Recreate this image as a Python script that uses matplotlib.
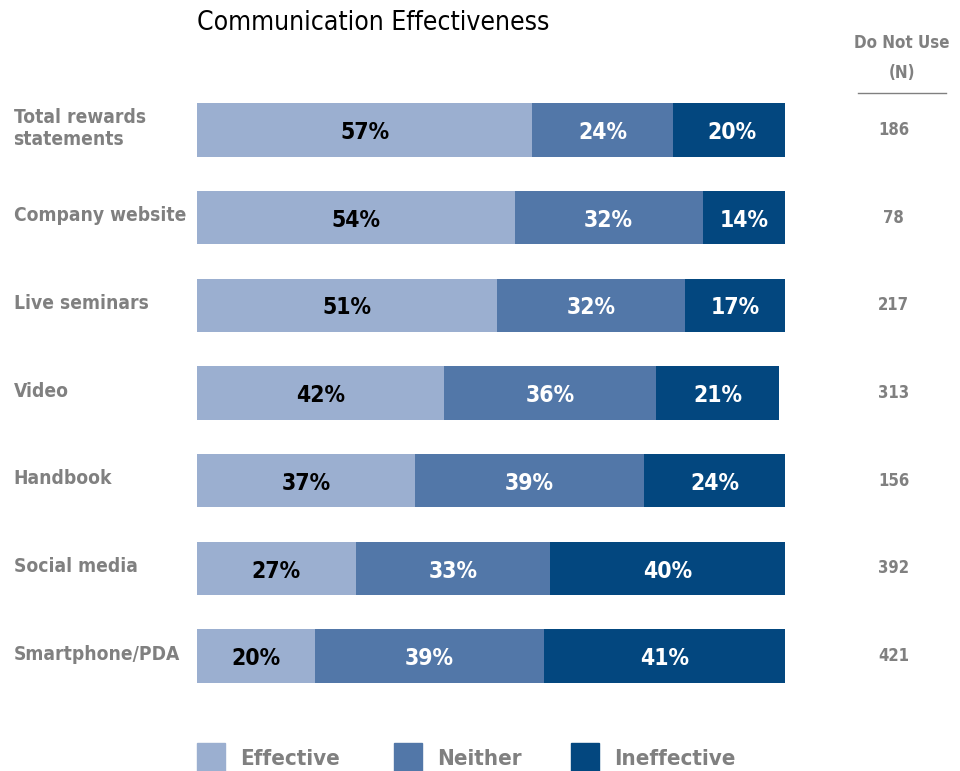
import matplotlib.pyplot as plt
import matplotlib.patches as mpatches

plt.rcParams['font.family'] = ['DejaVu Sans']
plt.rcParams['font.stretch'] = 'condensed'

categories = ['Total rewards\nstatements', 'Company website', 'Live seminars',
              'Video', 'Handbook', 'Social media', 'Smartphone/PDA']
effective = [57, 54, 51, 42, 37, 27, 20]
neither = [24, 32, 32, 36, 39, 33, 39]
ineffective = [20, 14, 17, 21, 24, 40, 41]
do_not_use = [186, 78, 217, 313, 156, 392, 421]
series_names = ['Effective', 'Neither', 'Ineffective']

colors = ['#9BAFD0', '#5277A8', '#03477F']
label_colors = ['black', 'white', 'white']
gray = '#808080'

fig = plt.figure(figsize=(9.6, 7.71), dpi=100)
ax = fig.add_axes([197 / 960, 1 - 700 / 771, 588 / 960, 614 / 771])

y = list(range(len(categories)))
left = [0] * len(categories)
for vals, col, tcol in zip([effective, neither, ineffective], colors, label_colors):
    bars = ax.barh(y, vals, left=left, height=0.61, color=col, edgecolor='none')
    for b, v in zip(bars, vals):
        ax.text(b.get_x() + b.get_width() / 2, b.get_y() + b.get_height() / 2 + 0.03,
                f'{v}%', ha='center', va='center', color=tcol,
                fontsize=16.5, fontweight='bold')
    left = [l + v for l, v in zip(left, vals)]

ax.set_xlim(0, 100)
ax.set_ylim(len(categories) - 0.5, -0.5)
ax.axis('off')

# category names on the left
for i, name in enumerate(categories):
    ax.text(-31.2, i - 0.02, name, ha='left', va='center', color=gray,
            fontsize=13.8, fontweight='bold', linespacing=1.2)
    # "Do Not Use" counts on the right
    ax.text(118.5, i, str(do_not_use[i]), ha='center', va='center', color=gray,
            fontsize=12, fontweight='bold')

fig.text(197 / 960, 1 - 23 / 771, 'Communication Effectiveness', ha='left', va='center',
         fontsize=19, color='black')
fig.text(902 / 960, 1 - 43 / 771, 'Do Not Use', ha='center', va='center',
         fontsize=12.2, fontweight='bold', color=gray)
fig.text(902 / 960, 1 - 73 / 771, '(N)', ha='center', va='center',
         fontsize=12.2, fontweight='bold', color=gray)
fig.add_artist(plt.Line2D([858 / 960, 946 / 960], [1 - 93 / 771, 1 - 93 / 771],
                          color=gray, lw=1))

# legend
legend_x = [197, 394, 571]
for lx, col, name in zip(legend_x, colors, series_names):
    fig.add_artist(mpatches.Rectangle((lx / 960, 0), 28 / 960, 28 / 771,
                                      color=col, transform=fig.transFigure))
    fig.text((lx + 43) / 960, 1 - 759 / 771, name, ha='left', va='center',
             fontsize=16, fontweight='bold', color=gray)

fig.savefig('out.png', dpi=100)
